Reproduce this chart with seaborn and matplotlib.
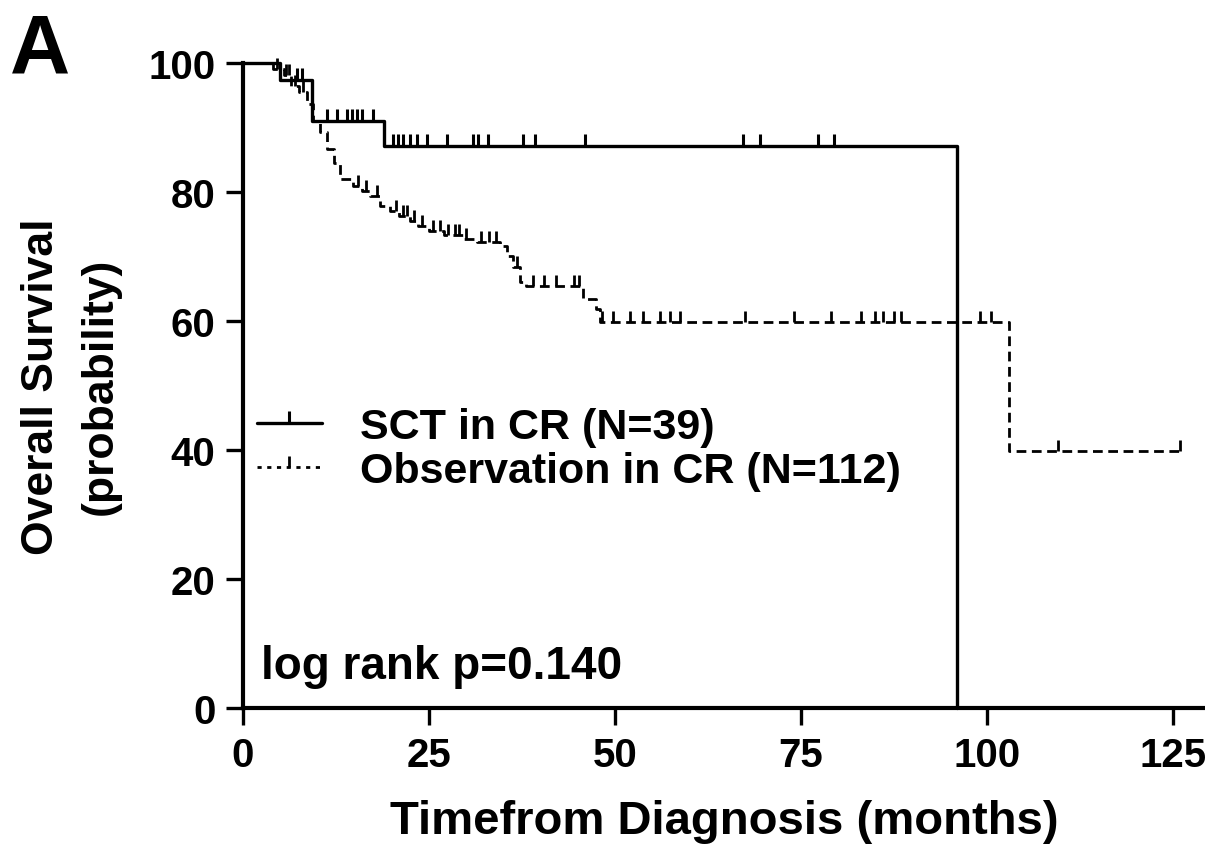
import numpy as np
import pandas as pd
import seaborn as sns
import matplotlib.pyplot as plt
from matplotlib.lines import Line2D

# Kaplan-Meier step points (months, % surviving)
sct_time = [0, 5, 9.3, 19, 96, 96]
sct_surv = [100, 97.4, 91.0, 87.1, 87.1, 0]
sct_censor = [7.3, 7.9, 11.3, 12.6, 14.0, 14.7, 15.3, 16.0, 17.5,
              20.2, 20.8, 21.5, 22.4, 23.4, 24.7, 27.4, 30.9, 31.6, 32.9,
              37.6, 39.2, 46.0, 67.2, 69.5, 77.3, 79.4]

obs_time = [0, 4, 5.5, 6.5, 7.5, 8.6, 9.4, 10.3, 11.3, 12.2, 13, 14.8, 16,
            17, 18.4, 19.8, 21, 22.4, 23.5, 25, 27, 29.6, 31.4, 34.5, 35.5,
            36.3, 37.2, 38, 45.7, 47.5, 48, 103, 126]
obs_surv = [100, 99.1, 98.2, 96.4, 95.5, 93.7, 91.0, 89.3, 86.7, 84.5, 82.0,
            81.0, 80.2, 79.4, 77.8, 77.0, 76.3, 75.5, 74.7, 74.0, 73.3, 72.7,
            72.2, 71.6, 70.1, 68.4, 66.0, 65.4, 63.4, 61.9, 59.8, 39.9, 39.9]
obs_censor = [4.5, 5.8, 6.2, 7.0, 8.0, 15.5, 16.5, 18.0, 20.5, 21.5, 22.0,
              23.0, 24.0, 25.5, 26.5, 27.5, 28.5, 29.0, 30.0, 32.0, 33.0,
              34.0, 36.8, 39.0, 40.5, 42.0, 44.5, 45.2, 48.3, 49.7, 52.0,
              53.8, 56.0, 57.4, 58.7, 67.5, 74.0, 79.0, 83.0, 85.0, 86.0,
              87.5, 88.5, 99.0, 100.5, 109.5, 126.0]

labels = ["SCT in CR (N=39)", "Observation in CR (N=112)"]
x_ticks = [0, 25, 50, 75, 100, 125]
y_ticks = [0, 20, 40, 60, 80, 100]


def surv_at(times, surv, t):
    idx = np.searchsorted(times, t, side="right") - 1
    return np.array(surv)[idx]


sns.set_style("ticks")
plt.rcParams["font.family"] = ["Liberation Sans", "DejaVu Sans"]
plt.rcParams["font.weight"] = "bold"
for key in ["text.color", "axes.labelcolor", "xtick.color", "ytick.color",
            "axes.edgecolor"]:
    plt.rcParams[key] = "black"

fig = plt.figure(figsize=(12.05, 8.45), dpi=100)
ax = fig.add_axes([0.2017, 0.1609, 0.7983, 0.7633])

sct = pd.DataFrame({"t": sct_time, "s": sct_surv})
obs = pd.DataFrame({"t": obs_time, "s": obs_surv})

dash = (0, (3.5, 2.0))
sns.lineplot(data=sct, x="t", y="s", ax=ax, color="black", lw=2.4,
             drawstyle="steps-post", sort=False, estimator=None,
             clip_on=False)
sns.lineplot(data=obs, x="t", y="s", ax=ax, color="black", lw=2.0,
             drawstyle="steps-post", sort=False, estimator=None,
             linestyle=dash, clip_on=False)

# censor marks
ax.plot(sct_censor, surv_at(sct_time[:-1], sct_surv[:-1], sct_censor),
        ls="none", marker=2, ms=9, mew=2.2, color="black", clip_on=False)
ax.plot(obs_censor, surv_at(obs_time, obs_surv, obs_censor),
        ls="none", marker=2, ms=8, mew=2.0, color="black", clip_on=False)

ax.set_xlim(0, 129.3)
ax.set_ylim(0, 100)
ax.set_xticks(x_ticks)
ax.set_yticks(y_ticks)
ax.tick_params(axis="both", length=12, width=2.4, labelsize=29, pad=8)
for sp in ["top", "right"]:
    ax.spines[sp].set_visible(False)
for sp in ["left", "bottom"]:
    ax.spines[sp].set_linewidth(3)

ax.set_xlabel("Timefrom Diagnosis (months)", fontsize=34, fontweight="bold",
              labelpad=18)
ax.set_ylabel("Overall Survival\n(probability)", fontsize=32,
              fontweight="bold", labelpad=20, linespacing=1.55)

handles = [Line2D([], [], color="black", lw=2.4, marker=2, ms=9, mew=2.2),
           Line2D([], [], color="black", lw=2.0, ls=(0, (1.5, 2.0)),
                  marker=2, ms=8, mew=2.0)]
ax.legend(handles, labels, loc="center left", bbox_to_anchor=(0.0146, 0.4016),
          frameon=False, borderpad=0, borderaxespad=0,
          handlelength=1.5, handletextpad=0.9, labelspacing=0.08,
          numpoints=1, prop={"weight": "bold", "size": 31})

ax.text(2.4, 6.5, "log rank p=0.140", fontsize=33, fontweight="bold",
        va="center", ha="left")
fig.text(0.008, 0.985, "A", fontsize=60, fontweight="bold", va="top",
         ha="left")

fig.savefig("out.png", dpi=100)
